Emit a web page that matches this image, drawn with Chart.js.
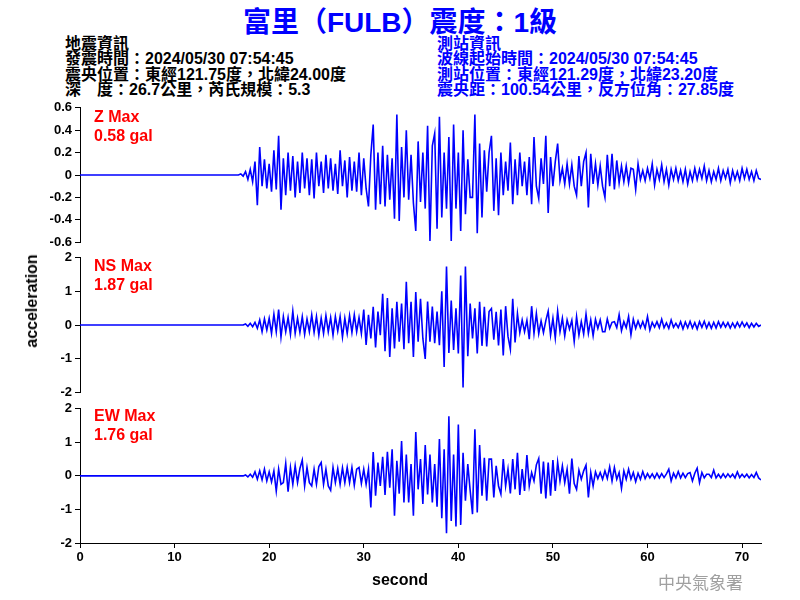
<!DOCTYPE html>
<html>
<head>
<meta charset="utf-8">
<script src="https://cdn.jsdelivr.net/npm/chart.js@4.4.1/dist/chart.umd.min.js"></script>
<style>
    body { margin: 0; background: #fff; }
    #page { position: relative; width: 800px; height: 600px; overflow: hidden; background: #fff;
            font-family: 'Liberation Sans', Arial, 'Noto Sans CJK TC', sans-serif; }
    canvas { position: absolute; left: 0; }
    .txt { position: absolute; white-space: pre; font-weight: bold; }
    #title { left: 0; width: 800px; top: 0px; text-align: center; font-size: 28px; color: #0000ff; }
    .info { top: 36px; font-size: 16px; line-height: 15.4px; }
    .maxlabel { left: 94px; font-size: 16px; line-height: 19px; color: #ff0000; }
    #ylabel { left: 32px; top: 301px; font-size: 16px; transform: translate(-50%, -50%) rotate(-90deg); }
    #xlabel { left: 0; width: 800px; top: 571px; text-align: center; font-size: 16px; }
    #agency { left: 658px; top: 569px; font-size: 17px; font-weight: normal; color: #a0a0a0;
              font-family: 'Noto Sans CJK TC', sans-serif; }
</style>
</head>
<body>
<div id="page">
    <div id="title" class="txt">富里（FULB）震度：1級</div>
    <div class="txt info" style="left:65px;color:#000">地震資訊
發震時間：2024/05/30 07:54:45
震央位置：東經121.75度，北緯24.00度
深　度：26.7公里，芮氏規模：5.3</div>
    <div class="txt info" style="left:437px;color:#0000ff">測站資訊
波線起始時間：2024/05/30 07:54:45
測站位置：東經121.29度，北緯23.20度
震央距：100.54公里，反方位角：27.85度</div>

    <canvas id="z-chart" width="800" height="156" style="top:97px"></canvas>
    <canvas id="ns-chart" width="800" height="156" style="top:247px"></canvas>
    <canvas id="ew-chart" width="800" height="180" style="top:398px"></canvas>

    <div class="txt maxlabel" style="top:107px">Z Max
0.58 gal</div>
    <div class="txt maxlabel" style="top:256px">NS Max
1.87 gal</div>
    <div class="txt maxlabel" style="top:406px">EW Max
1.76 gal</div>

    <div id="ylabel" class="txt">acceleration</div>
    <div id="xlabel" class="txt">second</div>
    <div id="agency" class="txt">中央氣象署</div>
</div>

<script>
// muestreo de las trazas (segundos)
const sampleStart = 16.5;
const sampleStep = 0.25;
const secondMax = 72;

const secondTicks = [0, 10, 20, 30, 40, 50, 60, 70];
const zTicks = [-0.6, -0.4, -0.2, 0, 0.2, 0.4, 0.6];
const accTicks = [-2, -1, 0, 1, 2];

// componente vertical (gal)
const zValues = [
    0, 0, 0.01, -0.01,
    0.03, -0.04, 0.05, -0.06,
    0.12, -0.27, 0.25, -0.1,
    0.14, -0.12, 0.1, -0.15,
    0.22, -0.13, 0.35, -0.31,
    0.15, -0.18, 0.2, -0.14,
    0.17, -0.2, 0.12, -0.16,
    0.2, -0.12, 0.15, -0.18,
    0.14, -0.21, 0.2, -0.1,
    0.12, -0.16, 0.18, -0.12,
    0.15, -0.14, 0.1, -0.17,
    0.22, -0.1, 0.13, -0.2,
    0.16, -0.14, 0.12, -0.15,
    0.2, -0.18, 0.15, -0.12,
    -0.28, 0.18, 0.45, -0.31,
    0.2, -0.26, 0.26, -0.28,
    0.18, -0.22, 0.15, -0.39,
    0.54, -0.41, 0.25, -0.2,
    0.4, -0.22, 0.18, -0.25,
    -0.5, 0.3, -0.24, 0.2,
    -0.3, 0.44, -0.59, 0.26,
    0.37, -0.48, 0.52, -0.38,
    0.2, -0.3, 0.34, -0.59,
    0.45, -0.3, 0.2, -0.5,
    0.4, -0.35, 0.14, -0.2,
    -0.2, 0.54, -0.52, 0.28,
    -0.38, 0.22, -0.15, 0.2,
    0.35, -0.32, 0.15, -0.36,
    0.2, -0.18, 0.12, -0.14,
    0.29, -0.26, 0.14, -0.18,
    0.2, -0.1, 0.12, -0.18,
    0.16, -0.26, 0.34, -0.1,
    -0.21, 0.15, -0.08, 0.35,
    -0.34, 0.16, -0.1, 0.12,
    0.28, -0.05, 0.06, -0.08,
    0.1, -0.08, 0.09, -0.1,
    -0.18, 0.17, -0.1, 0.12,
    0.2, -0.29, 0.19, -0.08,
    0.1, -0.09, 0.08, -0.1,
    -0.2, 0.18, -0.1, 0.19,
    -0.13, 0.13, -0.07, 0.08,
    -0.06, 0.08, -0.07, 0.06,
    0.05, -0.13, 0.1, -0.04,
    0.04, -0.05, 0.06, -0.03,
    0.1, -0.09, 0.05, -0.04,
    0.09, -0.06, 0.05, -0.09,
    0.05, -0.04, 0.06, -0.05,
    0.04, -0.06, 0.05, -0.08,
    0.03, -0.05, 0.06, -0.04,
    0.05, -0.03, 0.08, -0.05,
    0.04, -0.06, 0.03, -0.04,
    0.06, -0.05, 0.04, -0.03,
    0.05, -0.07, 0.04, -0.04,
    0.03, -0.05, 0.06, -0.03,
    0.05, -0.04, 0.03, -0.05,
    0.04, -0.03, -0.04
];

// componente norte-sur (gal)
const nsValues = [
    0, 0, 0, 0,
    0.03, -0.04, 0.05, -0.05,
    0.08, -0.1, 0.15, -0.2,
    0.18, -0.15, 0.2, -0.25,
    0.32, -0.2, 0.46, -0.36,
    0.25, -0.2, 0.22, -0.28,
    0.41, -0.25, 0.2, -0.22,
    0.25, -0.28, 0.18, -0.2,
    0.3, -0.22, 0.25, -0.3,
    0.2, -0.25, 0.28, -0.2,
    0.22, -0.3, 0.25, -0.18,
    0.25, -0.36, 0.2, -0.25,
    0.28, -0.22, 0.3, -0.2,
    0.22, -0.25, 0.46, -0.59,
    0.3, -0.4, 0.54, -0.67,
    0.4, -0.3, 0.93, -0.78,
    0.8, -0.95, 0.5, -0.7,
    0.69, -0.5, 0.64, -0.72,
    1.29, -0.54, 0.69, -0.95,
    0.98, -0.5, 0.78, -0.4,
    -1.01, 0.7, -0.5, 0.55,
    -0.54, 0.4, -0.6, 1.0,
    -1.25, 1.74, -0.83, 0.73,
    -0.74, 0.5, -0.85, 1.47,
    -1.86, 1.74, -0.93, 0.64,
    -0.4, 0.5, -0.85, 0.69,
    -0.62, 0.54, -0.64, 0.4,
    0.49, -0.44, 0.39, -0.61,
    0.46, -0.91, 0.56, -0.34,
    -0.72, 0.78, -0.52, 0.34,
    -0.23, 0.15, -0.2, 0.14,
    -0.42, 0.56, -0.25, 0.34,
    -0.26, 0.12, -0.23, 0.13,
    0.41, -0.3, 0.2, -0.39,
    0.41, -0.2, 0.2, -0.32,
    0.15, -0.12, 0.14, -0.49,
    0.25, -0.3, 0.1, -0.27,
    0.32, -0.25, 0.15, -0.32,
    0.17, -0.1, 0.15, -0.2,
    -0.2, 0.18, -0.1, 0.08,
    0.1, -0.08, 0.31, -0.17,
    0.1, -0.08, 0.25, -0.29,
    0.17, -0.1, 0.12, -0.08,
    0.1, -0.1, 0.25, -0.15,
    0.08, -0.06, 0.1, -0.08,
    0.17, -0.08, 0.06, -0.1,
    0.15, -0.07, 0.05, -0.08,
    0.1, -0.12, 0.09, -0.08,
    0.11, -0.09, 0.07, -0.12,
    0.1, -0.07, 0.11, -0.09,
    0.07, -0.1, 0.08, -0.09,
    0.1, -0.07, 0.08, -0.06,
    0.07, -0.09, 0.06, -0.08,
    0.08, -0.06, 0.09, -0.05,
    0.06, -0.08, 0.05, -0.06,
    0.05, -0.04, 0.0
];

// componente este-oeste (gal)
const ewValues = [
    0, 0, 0, 0,
    0.03, -0.03, 0.05, -0.04,
    0.12, -0.1, 0.15, -0.12,
    0.2, -0.15, 0.12, -0.18,
    0.15, -0.45, 0.2, -0.25,
    -0.2, 0.37, -0.47, 0.25,
    -0.25, 0.3, -0.2, 0.22,
    0.47, -0.3, 0.25, -0.2,
    -0.3, 0.2, -0.25, 0.28,
    0.4, -0.25, 0.2, -0.3,
    -0.43, 0.25, -0.2, 0.22,
    -0.25, 0.24, -0.2, 0.25,
    -0.2, 0.25, -0.28, 0.2,
    0.25, -0.22, 0.2, -0.25,
    0.2, -0.94, 0.71, -0.59,
    0.4, -0.3, 0.57, -0.57,
    0.72, -0.35, 0.79, -1.19,
    0.45, -0.53, 1.04, -0.79,
    0.64, -0.79, 0.35, -1.19,
    1.31, -0.4, 0.5, -0.84,
    0.92, -0.55, 0.64, -0.79,
    0.35, -0.92, 1.1, -1.26,
    0.79, -1.71, 1.78, -1.34,
    0.64, -1.51, 1.53, -1.46,
    0.69, -0.74, 0.35, -0.43,
    -1.14, 1.39, -1.09, 0.92,
    -0.59, 0.54, -0.74, 0.5,
    0.5, -0.64, 0.3, -0.3,
    -0.54, 0.5, -0.3, 0.2,
    -0.52, 0.5, -0.4, 0.69,
    -0.57, 0.2, -0.45, 0.62,
    -0.3, 0.1, -0.15, 0.33,
    0.52, -0.53, 0.43, -0.67,
    0.4, -0.59, 0.47, -0.45,
    0.41, -0.15, 0.3, -0.2,
    0.2, -0.53, 0.52, -0.23,
    -0.4, 0.17, -0.1, 0.15,
    0.32, -0.64, 0.1, -0.3,
    0.12, -0.08, 0.1, -0.1,
    0.15, -0.08, 0.27, -0.15,
    0.25, -0.1, 0.1, -0.37,
    0.15, -0.1, 0.2, -0.1,
    0.1, -0.17, 0.08, -0.1,
    0.13, -0.08, 0.07, -0.06,
    0.06, -0.07, 0.08, -0.06,
    0.07, -0.05, 0.06, 0.2,
    -0.15, 0.08, -0.06, 0.13,
    -0.06, 0.08, -0.05, 0.07,
    0.1, -0.15, 0.08, 0.23,
    -0.2, 0.1, -0.06, 0.05,
    0.05, -0.05, 0.17, -0.06,
    0.05, -0.06, 0.06, -0.05,
    0.06, -0.04, 0.05, -0.06,
    0.12, -0.05, 0.05, -0.04,
    0.05, -0.06, 0.04, -0.05,
    0.1, -0.06, -0.12
];

const tickFont = { family: "'Liberation Sans', Arial, sans-serif", size: 13, weight: 'bold' };

// traza: tramo quieto desde 0 s y luego las muestras
function toPoints(values) {
    let points = [{ x: 0, y: 0 }];
    values.forEach(function (v, i) {
        points.push({ x: sampleStart + i * sampleStep, y: v });
    });
    return points;
}

function makeChart(canvasId, values, yTicks, showX) {
    let ctx = document.getElementById(canvasId).getContext('2d');
    return new Chart(ctx, {
        type: 'line',
        data: {
            datasets: [{
                data: toPoints(values),
                borderColor: '#0000ff',
                borderWidth: 1.6,
                pointRadius: 0,
                tension: 0
            }]
        },
        options: {
            responsive: false,
            animation: false,
            devicePixelRatio: 1,
            layout: { padding: { left: 0, right: 39, top: 10, bottom: showX ? 5 : 10 } },
            plugins: { legend: { display: false }, tooltip: { enabled: false } },
            scales: {
                x: {
                    type: 'linear',
                    display: showX,
                    min: 0,
                    max: secondMax,
                    afterBuildTicks: function (scale) {
                        scale.ticks = secondTicks.map(v => ({ value: v }));
                    },
                    afterFit: function (scale) { scale.height = showX ? 30 : 0; },
                    grid: { drawOnChartArea: false, color: '#000', tickLength: 5 },
                    border: { color: '#000', width: 1 },
                    ticks: { color: '#000', font: tickFont, padding: 2, maxRotation: 0, autoSkip: false }
                },
                y: {
                    min: yTicks[0],
                    max: yTicks[yTicks.length - 1],
                    afterBuildTicks: function (scale) {
                        scale.ticks = yTicks.map(v => ({ value: v }));
                    },
                    afterFit: function (scale) { scale.width = 80; },
                    grid: { drawOnChartArea: false, color: '#000', tickLength: 5 },
                    border: { color: '#000', width: 1 },
                    ticks: { color: '#000', font: tickFont, padding: 3, autoSkip: false }
                }
            }
        }
    });
}

makeChart('z-chart', zValues, zTicks, false);
makeChart('ns-chart', nsValues, accTicks, false);
makeChart('ew-chart', ewValues, accTicks, true);
</script>
</body>
</html>
